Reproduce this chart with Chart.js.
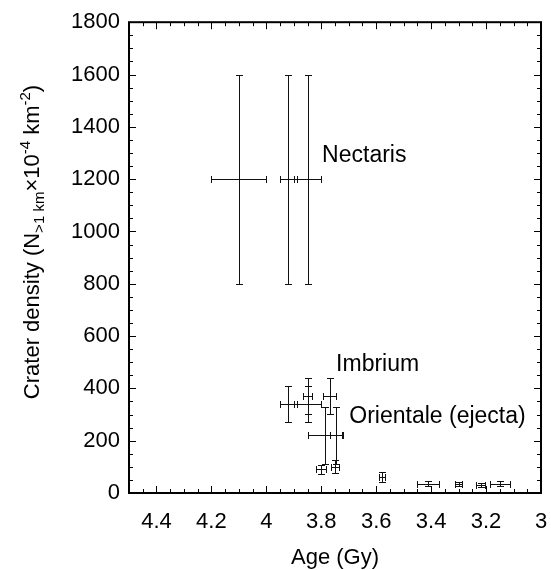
<!DOCTYPE html>
<html>
<head>
<meta charset="utf-8">
<script src="https://cdn.jsdelivr.net/npm/chart.js@4.4.1/dist/chart.umd.min.js"></script>
<style>
  html, body { margin: 0; padding: 0; background: #fff; }
  #wrap { width: 551px; height: 570px; position: relative; }
</style>
</head>
<body>
<div id="wrap"><canvas id="craterChart"></canvas></div>
<script>
// ages (Gy) and their errors
const age      = [4.10, 3.92, 3.85, 3.92, 3.85, 3.85, 3.77, 3.785, 3.745, 3.80, 3.75, 3.58, 3.41, 3.30, 3.22, 3.15];
const ageErr   = [0.10, 0.03, 0.05, 0.03, 0.05, 0.018, 0.022, 0.065, 0.022, 0.018, 0.015, 0.011, 0.04, 0.013, 0.016, 0.036];
// crater density N(>1 km) x 10^-4 km^-2
const density    = [1200, 1200, 1200, 340, 340, 370, 370, 220, 220, 90, 100, 62, 36, 33, 32, 36];
const densityErr = [400, 400, 400, 68, 68, 68, 68, 110, 110, 17, 25, 19, 9, 8, 8, 9];

const xTicks = [3, 3.2, 3.4, 3.6, 3.8, 4, 4.2, 4.4];
const yTicks = [0, 200, 400, 600, 800, 1000, 1200, 1400, 1600, 1800];

const labelText    = ['Nectaris', 'Imbrium', 'Orientale (ejecta)'];
const labelAge     = [3.797, 3.746, 3.698];
const labelDensity = [1267, 467, 267];

const FONT = '"Liberation Sans", Arial, Helvetica, sans-serif';

// error bars drawn from the data through the scales
const errorBars = {
    id: 'errorBars',
    afterDatasetsDraw(chart) {
        const { ctx, scales: { x, y } } = chart;
        const cap = 3.5;
        const snap = v => Math.round(v) + 0.5;
        ctx.save();
        ctx.strokeStyle = '#111';
        ctx.lineWidth = 1;
        age.forEach((a, i) => {
            const px = snap(x.getPixelForValue(a));
            const py = snap(y.getPixelForValue(density[i]));
            const xl = snap(x.getPixelForValue(a + ageErr[i]));
            const xr = snap(x.getPixelForValue(a - ageErr[i]));
            const yt = snap(y.getPixelForValue(density[i] + densityErr[i]));
            const yb = snap(y.getPixelForValue(density[i] - densityErr[i]));
            ctx.beginPath();
            // horizontal
            ctx.moveTo(xl, py); ctx.lineTo(xr, py);
            ctx.moveTo(xl, py - cap); ctx.lineTo(xl, py + cap);
            ctx.moveTo(xr, py - cap); ctx.lineTo(xr, py + cap);
            // vertical
            ctx.moveTo(px, yt); ctx.lineTo(px, yb);
            ctx.moveTo(px - cap, yt); ctx.lineTo(px + cap, yt);
            ctx.moveTo(px - cap, yb); ctx.lineTo(px + cap, yb);
            ctx.stroke();
        });
        ctx.restore();
    }
};

// box frame with inward ticks on all four sides
const frame = {
    id: 'frame',
    afterDraw(chart) {
        const { ctx, chartArea: ca, scales: { x, y } } = chart;
        ctx.save();
        ctx.strokeStyle = '#000';
        ctx.lineWidth = 1;
        ctx.beginPath();
        for (let v = 3; v <= 4.5001; v += 0.05) {
            const major = xTicks.some(t => Math.abs(t - v) < 1e-6);
            const len = major ? 7 : 4;
            const p = Math.round(x.getPixelForValue(v)) + 0.5;
            ctx.moveTo(p, ca.bottom); ctx.lineTo(p, ca.bottom - len);
            ctx.moveTo(p, ca.top); ctx.lineTo(p, ca.top + len);
        }
        for (let v = 0; v <= 1800; v += 50) {
            const major = yTicks.includes(v);
            const len = major ? 7 : 4;
            const p = Math.round(y.getPixelForValue(v)) + 0.5;
            ctx.moveTo(ca.left, p); ctx.lineTo(ca.left + len, p);
            ctx.moveTo(ca.right, p); ctx.lineTo(ca.right - len, p);
        }
        ctx.stroke();
        ctx.lineWidth = 2;
        ctx.strokeRect(ca.left, ca.top, ca.right - ca.left, ca.bottom - ca.top);
        ctx.restore();
    }
};

// text labels in the plot + the y axis title with sub/superscripts
const texts = {
    id: 'texts',
    afterDraw(chart) {
        const { ctx, scales: { x, y } } = chart;
        ctx.save();
        ctx.fillStyle = '#000';
        ctx.textBaseline = 'alphabetic';
        ctx.textAlign = 'left';
        ctx.font = '23px ' + FONT;
        labelText.forEach((t, i) => {
            ctx.fillText(t, x.getPixelForValue(labelAge[i]), y.getPixelForValue(labelDensity[i]));
        });

        const parts = [
            { t: 'Crater density (N', s: 22, dy: 0 },
            { t: '>1 km', s: 15, dy: 5 },
            { t: '\u00d710', s: 22, dy: 0 },
            { t: '-4', s: 15, dy: -9 },
            { t: ' km', s: 22, dy: 0 },
            { t: '-2', s: 15, dy: -9 },
            { t: ')', s: 22, dy: 0 }
        ];
        let total = 0;
        parts.forEach(p => { ctx.font = p.s + 'px ' + FONT; p.w = ctx.measureText(p.t).width; total += p.w; });
        ctx.translate(39, 242);
        ctx.rotate(-Math.PI / 2);
        let cx = -total / 2;
        parts.forEach(p => {
            ctx.font = p.s + 'px ' + FONT;
            ctx.fillText(p.t, cx, p.dy);
            cx += p.w;
        });
        ctx.restore();
    }
};

function initChart() {
    const ctx = document.getElementById('craterChart').getContext('2d');
    new Chart(ctx, {
        type: 'scatter',
        data: {
            datasets: [{
                data: age.map((a, i) => ({ x: a, y: density[i] })),
                pointRadius: 0,
                showLine: false
            }]
        },
        options: {
            responsive: true,
            maintainAspectRatio: false,
            animation: false,
            layout: { padding: { top: 19, right: 10, left: 0, bottom: 0 } },
            plugins: { legend: { display: false }, tooltip: { enabled: false } },
            scales: {
                x: {
                    type: 'linear',
                    min: 3,
                    max: 4.5,
                    reverse: true,
                    grid: { display: false, drawTicks: false },
                    border: { display: false },
                    afterBuildTicks: s => { s.ticks = xTicks.map(v => ({ value: v })); },
                    afterFit: s => { s.height = 77; },
                    ticks: {
                        padding: 16,
                        color: '#000',
                        font: { size: 22, family: FONT },
                        callback: v => String(v)
                    },
                    title: {
                        display: true,
                        text: 'Age (Gy)',
                        color: '#000',
                        padding: { top: 0, bottom: -1 },
                        font: { size: 22, family: FONT }
                    }
                },
                y: {
                    min: 0,
                    max: 1800,
                    grid: { display: false, drawTicks: false },
                    border: { display: false },
                    afterBuildTicks: s => { s.ticks = yTicks.map(v => ({ value: v })); },
                    afterFit: s => { s.width = 129; },
                    ticks: {
                        padding: 9,
                        color: '#000',
                        font: { size: 22, family: FONT },
                        callback: v => String(v)
                    }
                }
            }
        },
        plugins: [errorBars, frame, texts]
    });
}

window.addEventListener('load', initChart);
</script>
</body>
</html>
